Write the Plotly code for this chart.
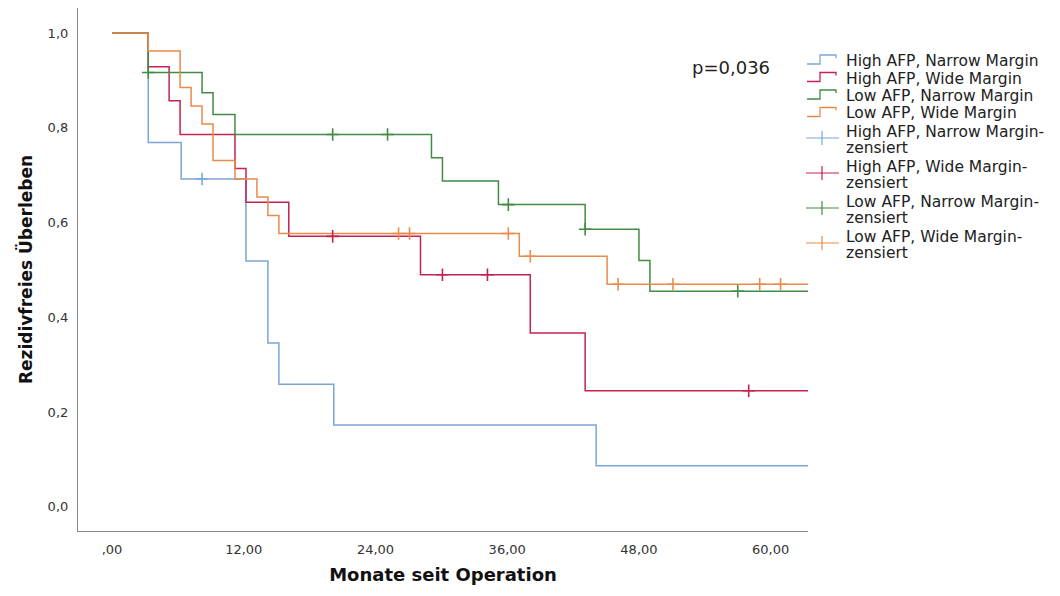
import plotly.graph_objects as go

# Kaplan-Meier step data: event times (months) and survival after each step.
blue_t = [0, 3.3, 6.3, 12.2, 14.2, 15.2, 20.2, 44.1, 63.4]
blue_s = [1.0, 0.769, 0.692, 0.519, 0.346, 0.259, 0.173, 0.087, 0.087]
blue_cens = [8.2]

red_t = [0, 3.3, 5.2, 6.2, 11.2, 12.2, 16.1, 28.1, 38.1, 43.1, 63.4]
red_s = [1.0, 0.929, 0.857, 0.786, 0.714, 0.643, 0.571, 0.490, 0.367, 0.245, 0.245]
red_cens = [20.1, 30.1, 34.2, 58.0]

green_t = [0, 3.3, 8.2, 9.2, 11.2, 29.1, 30.1, 35.2, 43.1, 48.0, 49.0, 63.4]
green_s = [1.0, 0.917, 0.874, 0.828, 0.786, 0.737, 0.688, 0.638, 0.586, 0.520, 0.455, 0.455]
green_cens = [3.3, 20.1, 25.1, 36.1, 43.1, 57.0]

orange_t = [0, 3.3, 6.2, 7.2, 8.2, 9.2, 11.2, 13.2, 14.2, 15.2, 37.1, 45.1, 63.4]
orange_s = [1.0, 0.962, 0.885, 0.846, 0.808, 0.731, 0.692, 0.654, 0.615, 0.577, 0.529, 0.470, 0.470]
orange_cens = [26.1, 27.1, 36.1, 38.1, 46.1, 51.1, 59.0, 60.9]

group_names = ["High AFP, Narrow Margin", "High AFP, Wide Margin",
               "Low AFP, Narrow Margin", "Low AFP, Wide Margin"]
censor_suffix = "-zensiert"

x_tickvals = [0, 12, 24, 36, 48, 60]
x_ticktext = [",00", "12,00", "24,00", "36,00", "48,00", "60,00"]
y_tickvals = [0.0, 0.2, 0.4, 0.6, 0.8, 1.0]
y_ticktext = ["0,0", "0,2", "0,4", "0,6", "0,8", "1,0"]
p_text = "p=0,036"

colors = ["#7ba6d6", "#c2244f", "#428c42", "#ea8a4b"]
groups = [(blue_t, blue_s, blue_cens), (red_t, red_s, red_cens),
          (green_t, green_s, green_cens), (orange_t, orange_s, orange_cens)]


def surv_at(t, times, surv):
    """Right-continuous step value of the survival curve at time t."""
    val = surv[0]
    for ti, si in zip(times, surv):
        if ti <= t:
            val = si
    return val


fig = go.Figure()

for (t, s, _), col, name in zip(groups, colors, group_names):
    fig.add_trace(go.Scatter(x=t, y=s, mode="lines", line=dict(color=col, width=1.5, shape="hv"),
                             name=name, showlegend=False, hoverinfo="skip"))

for (t, s, c), col, name in zip(groups, colors, group_names):
    fig.add_trace(go.Scatter(x=c, y=[surv_at(ci, t, s) for ci in c], mode="markers",
                             marker=dict(symbol="cross-thin", size=9, line=dict(color=col, width=1.6)),
                             name=name + censor_suffix, showlegend=False, hoverinfo="skip"))

# Figure geometry (pixels)
W, H = 1060, 596
L, R, T, B = 78, 252, 8, 65
PW, PH = W - L - R, H - T - B


def px(xp):
    return (xp - L) / PW


def py(yp):
    return (H - B - yp) / PH


shapes = []
annotations = []
text_font = dict(family="DejaVu Sans", size=15.5, color="#222222")

# Legend: step glyph for the curves
row_y = [61, 78.5, 96, 113.5]
for yc, col, name in zip(row_y, colors, group_names):
    path = (f"M {px(807)} {py(yc + 3)} L {px(820)} {py(yc + 3)} L {px(820)} {py(yc - 6)} "
            f"L {px(836)} {py(yc - 6)} L {px(836)} {py(yc - 3)}")
    shapes.append(dict(type="path", xref="paper", yref="paper", path=path,
                       line=dict(color=col, width=1.3)))
    annotations.append(dict(x=px(844), y=py(yc), xref="paper", yref="paper", text=name,
                            showarrow=False, xanchor="left", yanchor="middle", font=text_font))

# Legend: censor glyph entries (two text lines each)
cens_rows = [(132, 148), (167, 183), (202, 218), (237, 253)]
for (y1, y2), col, name in zip(cens_rows, colors, group_names):
    ym = (y1 + y2) / 2 - 2
    shapes.append(dict(type="line", xref="paper", yref="paper", x0=px(806), x1=px(839),
                       y0=py(ym), y1=py(ym), line=dict(color=col, width=1.2)))
    shapes.append(dict(type="line", xref="paper", yref="paper", x0=px(822), x1=px(822),
                       y0=py(ym - 7), y1=py(ym + 7), line=dict(color=col, width=1.2)))
    annotations.append(dict(x=px(844), y=py(y1), xref="paper", yref="paper",
                            text=name + censor_suffix[:1], showarrow=False, xanchor="left",
                            yanchor="middle", font=text_font))
    annotations.append(dict(x=px(844), y=py(y2), xref="paper", yref="paper",
                            text=censor_suffix[1:], showarrow=False, xanchor="left",
                            yanchor="middle", font=text_font))

annotations.append(dict(x=px(731), y=py(67), xref="paper", yref="paper", text=p_text,
                        showarrow=False, xanchor="center", yanchor="middle",
                        font=dict(family="DejaVu Sans", size=18, color="#222222")))

fig.update_layout(
    width=W, height=H,
    margin=dict(l=L, r=R, t=T, b=B),
    paper_bgcolor="white", plot_bgcolor="white",
    showlegend=False,
    shapes=shapes,
    annotations=annotations,
    xaxis=dict(range=[-3.1, 63.4], tickvals=x_tickvals, ticktext=x_ticktext,
               showgrid=False, zeroline=False, showline=True, linecolor="#8a8a8a", linewidth=1.2,
               ticks="", ticklabelstandoff=6,
               tickfont=dict(family="DejaVu Sans", size=13, color="#333333"),
               title=dict(text="<b>Monate seit Operation</b>", standoff=12,
                          font=dict(family="DejaVu Sans", size=18, color="#111111"))),
    yaxis=dict(range=[-0.051, 1.053], tickvals=y_tickvals, ticktext=y_ticktext,
               showgrid=False, zeroline=False, showline=True, linecolor="#8a8a8a", linewidth=1.2,
               ticks="", ticklabelstandoff=6,
               tickfont=dict(family="DejaVu Sans", size=13, color="#333333"),
               title=dict(text="<b>Rezidivfreies Überleben</b>", standoff=10,
                          font=dict(family="DejaVu Sans", size=17, color="#111111"))),
)

fig.write_html("out.html")
